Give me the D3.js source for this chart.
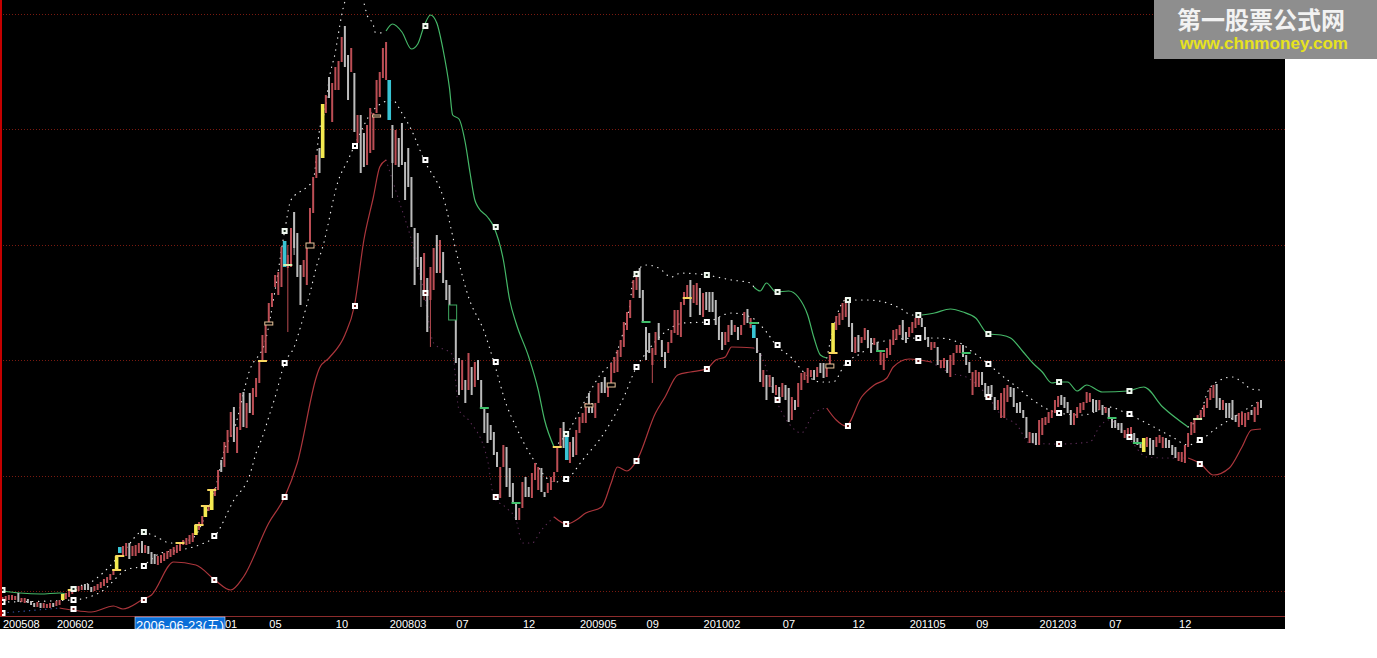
<!DOCTYPE html>
<html><head><meta charset="utf-8">
<script src="https://cdn.jsdelivr.net/npm/d3@7"></script>
<style>html,body{margin:0;padding:0;background:#fff;overflow:hidden}svg{display:block}</style>
</head><body><svg id="c" width="1377" height="658"></svg>
<script>
// weekly candle bodies, one row per ten bars
const bodyHigh=[
43,44,45,45,44,47,42,42,41,39,
37,38,37,37,36,37,37,39,40,46,
47,50,52,53,54,54,56,56,53,54,
56,58,61,63,66,69,84,93,94,97,
97,94,95,97,99,95,94,88,86,84,
85,87,89,91,93,95,97,100,102,105,
107,115,118,124,134,135,151,152,170,180,
198,210,228,233,213,247,248,237,247,252,
262,278,305,315,337,347,365,368,393,399,
385,412,428,407,375,380,392,432,463,485,
492,536,545,563,557,573,579,603,614,585,
592,567,525,525,507,515,532,527,560,568,
592,598,560,515,510,502,517,478,492,463,
412,407,383,387,362,373,392,405,400,388,
360,355,335,320,282,280,260,287,273,278,
280,260,232,227,215,208,188,173,195,193,
172,157,137,132,158,163,153,167,177,173,
172,148,157,163,168,192,212,218,203,198,
203,210,223,227,237,247,237,237,257,258,
263,257,277,283,290,300,318,328,340,360,
368,372,350,313,307,292,308,317,300,288,
298,310,330,330,338,348,355,360,355,357,
352,347,348,348,348,340,323,308,308,315,
320,315,313,315,328,331,322,315,302,287,
270,265,265,263,255,253,257,255,252,243,
240,257,267,268,272,270,270,273,277,277,
273,285,317,324,327,337,342,342,317,303,
305,303,312,310,302,302,298,288,287,292,
300,310,311,315,320,308,313,318,322,324,
322,313,303,298,298,293,280,282,280,285,
287,295,295,295,285,278,268,270,268,268,
257,254,255,243,240,247,252,255,253,252,
237,238,230,223,208,207,207,220,222,223,
228,230,240,244,245,243,238,230,227,233,
237,238,248,247,241,240,240,235,233,232,
222,220,217,217,210,212,213,207,202,197,
202,203,202,200,203,205,203,202,200,195,
193,188,188,195,207,218,222,225,230,235,
242,252,255,256,242,240,237,237,240,225,
227,228,227,228,230,233,238,240];
const bodyLow=[
38,39,40,40,40,38,38,37,37,35,
33,33,32,32,32,32,33,34,35,40,
41,43,46,48,49,50,50,50,48,49,
50,52,54,57,60,65,70,87,83,84,
81,84,84,87,87,87,86,76,76,75,
77,79,81,83,85,87,89,95,95,96,
98,105,110,115,123,129,130,144,150,168,
173,187,203,198,187,210,213,212,227,225,
243,257,278,287,317,333,353,345,353,373,
372,373,392,363,335,363,355,397,427,462,
467,482,527,542,518,550,550,578,573,540,
568,508,497,467,473,475,487,490,527,543,
562,560,520,477,475,473,475,440,453,413,
355,373,360,348,308,340,350,367,367,357,
340,335,320,277,245,250,237,250,245,253,
260,232,207,197,200,185,173,142,173,153,
143,137,120,120,132,143,143,142,160,150,
148,143,147,150,158,168,193,192,180,177,
183,185,207,217,217,227,227,222,237,247,
247,243,257,267,268,283,293,310,322,342,
350,342,318,280,287,275,285,300,283,272,
287,297,307,305,303,335,342,323,337,335,
325,323,330,328,328,315,300,290,295,298,
305,308,300,305,315,317,312,302,287,258,
253,240,253,247,245,243,243,240,218,220,
230,233,250,260,257,263,260,263,267,262,
263,275,287,310,315,320,323,313,288,287,
288,297,300,292,287,295,290,275,270,282,
285,295,300,305,300,297,303,307,312,315,
313,300,293,290,292,275,272,272,267,263,
275,287,287,283,275,267,245,253,253,255,
243,243,243,230,230,222,222,238,243,233,
227,227,222,202,197,197,195,195,205,215,
217,222,227,233,235,232,227,215,215,222,
227,230,237,238,228,228,230,225,227,222,
212,212,210,207,202,203,202,198,195,192,
188,193,185,185,193,197,192,192,192,185,
182,179,178,177,193,205,207,220,220,223,
232,240,242,232,230,230,222,222,220,218,
213,215,213,220,225,218,225,232];
const upDown=("rrrrrgrrgg"+"grgrrrgrrr"+"rrrrrrgggr"+"rrrrrrrrrr"+"grrrgrgggr"+"rrrrrrrrrr"+"rrrrrrrrrg"+"rrrgrrgrgr"+
"rrrrrrrrrr"+"rrgggrrrrr"+"grrgrrrrgg"+"rgrggrrrrr"+"rrrgrggggg"+"gggrgrrgrg"+"gggggrgrgr"+"gggggggrrg"+
"gggrrggrrr"+"ggrrrrrgrr"+"grrrrggrrg"+"grrrrrrrrr"+"rggggrrggg"+"rrrrrrrgrr"+"grggggggrr"+"grgrrgrrgg"+
"rgrgrgrggr"+"grrrrrgrgg"+"rrrrrrrggr"+"grrggrgrrr"+"rrrrggrrrr"+"gggrrgrrgr"+"rrrgggrrrg"+"ggggrrrrgg"+
"ggggrggrrr"+"rrrrggggrr"+"rrrrggrgrg"+"ggggrrrggg"+"rrggrrrggg"+"grrrrrrrrr"+"rrrggrgggg"+"rrrrgrrg").split("");
// [bar, high, low] for bars with a long thin wick
const longWicks=[[90,395,308],[92,428,385],[94,375,335],[123,515,442],[132,383,333],[134,362,308],[135,373,293],[133,387,340],[205,292,257],[248,252,218]];
const yellowBars=[19,36,61,64,66,101,262,360];
const cyanBars=[37,89,122,178,237];
// doji caps: [bar, value]
const yellowCaps=[[22,50],[36,70],[37,84],[56,97],[62,115],[64,134],[66,150],[82,279],[175,193],[216,342],[262,287]];
const greenCaps=[[152,232],[162,137],[203,318],[237,317],[277,289],[304,287],[350,222],[358,197]];
const paleCaps=[[90,375],[377,221]];
// hollow bars: [bar, high, low]
const orangeBoxes=[[84,318,315],[97,397,392],[118,525,523],[185,236,233],[192,257,253],[261,276,272]];
const greenBoxes=[[142,335,320]];
// bands
const upperBar=[0,5.5,12,18,20,22,28,32,39,44,48,53,58,61,64,67,70,73,78,83,86,89,91,96,98,100,102,103,105,106,107,108,110,112,114,115,117,117.5,119,121,123,126,129,131,133,135,137,139,141,142,144,146,147.5,149,150,153,155,158,160,162,166,169,171,174,178,183,189,192,194,196,198,199,203,207,211,214,222,230,236,237,239,241,244,248,251,254,256,258,260,266,273,278,283,287,290,294,299,303,307,311,315,318,322,325,328,331,333,336,339,342,347,355,360,366,374,378,380,383,388,391,394,397];
const upperVal=[49,47,46,47,46,51,58,68,92,108,104,97,99,105,125,149,190,210,270,300,350,409,440,453,460,510,535,560,588,607,625,638,645,646,637,625,615,608,607,609,616,608,591,596,614,625,617,590,552,525,521,497,467,440,433,423,413,380,340,317,283,250,220,193,206,235,267,277,290,310,337,363,375,372,363,367,365,360,357,353,349,357,348,349,343,325,302,285,282,340,340,338,332,325,325,327,331,328,322,306,305,302,288,277,268,257,258,258,249,255,248,249,253,233,213,227,247,258,263,258,251,250];
const midBar=[0,22,31,39,44,50,56,62,67,73,78,80,82,84,86,89,92,94,97,99,101,106,109,111,117,123,126,129,133,139,144,147,152,155,159,162,167,174,178,183,190,196,200,203,215,222,230,236,241,244,249,253,258,262,266,271,275,289,295,302,306,311,315,320,325,333,341,349,355,362,369,374,378,383,388,393,397];
const midVal=[38,40,48,70,74,87,90,95,104,140,165,187,203,223,243,277,293,313,347,373,393,460,480,494,530,540,527,510,480,443,377,343,308,278,235,213,183,158,161,180,208,243,273,287,317,318,327,323,308,295,282,267,258,258,277,287,297,302,302,297,288,276,265,253,240,227,225,233,226,215,203,195,200,212,222,232,240];
const lowerBar=[0,18,22,28,35,38,44,47,54,61,67,72,76,84,89,93,99,100,103,108,111,114,117,119,121,125,129,133,136,142,144,147,153,155,159,162,164,167,170,174,178,181,184,189,192,194,197,200,206,209,213,217,222,225,228,230,237,239,244,248,252,256,260,263,266,271,275,279,281,286,293,300,304,311,315,320,324,333,343,346,349,355,361,367,374,378,382,387,391,394,397];
const lowerVal=[27,32,30,28,34,31,40,45,78,75,60,50,63,117,143,177,263,272,282,305,334,400,443,473,480,440,400,347,297,285,230,220,180,143,132,120,97,97,110,123,116,120,127,133,157,173,169,179,227,243,265,268,271,280,283,293,292,287,240,217,207,227,232,220,214,243,255,262,273,281,278,266,263,243,225,215,197,196,198,213,220,203,183,182,182,176,165,172,193,210,211];
// band segments: solid or dotted runs between bars
const upperGreen=[[0,20],[121,174],[237,260],[290,374]];
const upperDotted=[[20,121],[174,237],[260,290],[374,397]];
const lowerRed=[[18,121],[174,237],[260,293],[374,397]];
const lowerDim=[[121,174],[237,260],[293,374]];
const lowerBlue=[[0,18]];
// square markers every 22.2 bars
const markerBar=[0,22.4,44.6,66.8,89,111.2,133.4,155.6,177.8,200,222.2,244.5,266.7,288.9,311,333.3,355.5,377.7];
const markerUpper=[50,51,108,null,409,null,614,413,206,366,365,348,340,325,306,258,249,null];
const markerMid=[38,40,74,104,277,494,480,278,161,273,318,295,277,302,276,227,226,200];
const markerLower=[27,31,40,60,143,334,347,143,116,179,271,240,214,279,243,196,203,176];
// axis
const tickBars=[0,17,70,84,105,122,143,164,182,203,221,246,268,286,307,327,349,371];
const tickLabels=["200508","200602","01","05","10","200803","07","12","200905","09","201002","07","12","201105","09","201203","07","12"];
const gridVals=[626,511,395,280,164,49];
const baseVal=24;

const svg=d3.select("#c");
const W=1285,H=629,n=bodyHigh.length;
if(bodyLow.length!==n||upDown.length!==n||upperBar.length!==upperVal.length||midBar.length!==midVal.length||lowerBar.length!==lowerVal.length)
  throw new Error("length mismatch "+[n,bodyLow.length,upDown.length,upperBar.length,upperVal.length,midBar.length,midVal.length,lowerBar.length,lowerVal.length]);
const x=d3.scaleLinear().domain([0,397]).range([2.5,1261]);
const y=d3.scaleLinear().domain([0,640]).range([640,0]);

svg.append("rect").attr("width",W).attr("height",H).attr("fill","#000");
svg.append("defs").append("clipPath").attr("id","panel").append("rect").attr("width",W).attr("height",H);
const root=svg.append("g").attr("clip-path","url(#panel)");

root.append("g").selectAll("line").data(gridVals).join("line")
  .attr("x1",0).attr("x2",W).attr("y1",d=>y(d)+.5).attr("y2",d=>y(d)+.5)
  .attr("stroke","#7a1a10").attr("stroke-width",1).attr("stroke-dasharray","1 2");

const line=d3.line().x(d=>x(d[0])).y(d=>y(d[1])).curve(d3.curveMonotoneX);
function band(bars,vals,ranges,color,dash,w){
  const pts=bars.map((b,i)=>[b,vals[i]]);
  ranges.forEach(([a,b])=>{
    const p=root.append("path").datum(pts.filter(d=>d[0]>=a&&d[0]<=b)).attr("d",line)
      .attr("fill","none").attr("stroke",color).attr("stroke-width",w);
    if(dash)p.attr("stroke-dasharray",dash).attr("stroke-linecap","round");
  });
}
band(upperBar,upperVal,upperDotted,"#eeeeee","0.4 5.6",1.2);
band(midBar,midVal,[[0,397]],"#eeeeee","0.4 5.6",1.2);
band(lowerBar,lowerVal,lowerDim,"#5e2c58","0.4 5",1.1);
band(lowerBar,lowerVal,lowerBlue,"#3a58b0","0.4 5",1.1);
band(upperBar,upperVal,upperGreen,"#45b868",null,1.2);
band(lowerBar,lowerVal,lowerRed,"#ac363c",null,1.2);

const RED="#bc4e55",GREY="#bcbcbc";
const yellowSet=new Set(yellowBars),cyanSet=new Set(cyanBars);
const special=i=>yellowSet.has(i)||cyanSet.has(i);
const barColor=i=>yellowSet.has(i)?"#f4ea50":cyanSet.has(i)?"#38c4d4":upDown[i]==="r"?RED:GREY;

root.append("g").selectAll("line").data(longWicks).join("line")
  .attr("x1",d=>x(d[0])).attr("x2",d=>x(d[0])).attr("y1",d=>y(d[1])).attr("y2",d=>y(d[2]))
  .attr("stroke",d=>upDown[d[0]]==="r"?"#a8444a":"#aaaaaa").attr("stroke-width",1.1);
root.append("g").selectAll("rect").data(d3.range(n)).join("rect")
  .attr("x",i=>x(i)-(special(i)?1.8:1)).attr("width",i=>special(i)?3.6:2)
  .attr("y",i=>y(bodyHigh[i])).attr("height",i=>y(bodyLow[i])-y(bodyHigh[i]))
  .attr("fill",barColor);

function caps(list,color){
  root.append("g").selectAll("rect").data(list).join("rect")
    .attr("x",d=>x(d[0])-4.5).attr("width",9).attr("y",d=>y(d[1])-1).attr("height",2).attr("fill",color);
}
caps(yellowCaps,"#f8d860");caps(greenCaps,"#3fc06a");caps(paleCaps,"#d8f0b0");
function boxes(list,color){
  root.append("g").selectAll("rect").data(list).join("rect")
    .attr("x",d=>x(d[0])-4).attr("width",8).attr("y",d=>y(d[1])).attr("height",d=>y(d[2])-y(d[1]))
    .attr("fill","#000").attr("stroke",color).attr("stroke-width",1);
}
boxes(orangeBoxes,"#e8c49a");boxes(greenBoxes,"#3fa860");

function markers(vals,inner,fill){
  const data=markerBar.map((b,i)=>[b,vals[i]]).filter(d=>d[1]!==null);
  const g=root.append("g");
  g.selectAll("rect.o").data(data).join("rect").attr("class","o")
    .attr("x",d=>x(d[0])-3).attr("y",d=>y(d[1])-3).attr("width",6).attr("height",6).attr("fill",fill);
  g.selectAll("rect.i").data(data).join("rect").attr("class","i")
    .attr("x",d=>x(d[0])-1).attr("y",d=>y(d[1])-1).attr("width",2).attr("height",2).attr("fill",inner);
}
markers(markerUpper,"#203020","#f0f8f0");
markers(markerMid,"#000","#fff");
markers(markerLower,"#702020","#fff");

// left border and base line
svg.append("line").attr("x1",1).attr("x2",1).attr("y1",0).attr("y2",y(baseVal)).attr("stroke","#c40000").attr("stroke-width",2);
svg.append("line").attr("x1",0).attr("x2",W).attr("y1",y(baseVal)+.5).attr("y2",y(baseVal)+.5).attr("stroke","#8c2c2c").attr("stroke-width",1);

// axis labels
const axis=d3.axisBottom(x).tickValues(tickBars).tickSize(0).tickPadding(0).tickFormat((d,i)=>tickLabels[i]);
const ax=svg.append("g").attr("transform","translate(0,618)").call(axis);
ax.select(".domain").remove();
ax.selectAll("text").attr("text-anchor","start").attr("dy",0).attr("y",10)
  .attr("fill","#fff").style("font-family","'Liberation Sans',sans-serif").style("font-size","11px");

// cursor date tag
svg.append("rect").attr("x",135).attr("y",617).attr("width",90).attr("height",12).attr("fill","#0a6ed8").attr("stroke","#cfe4fa").attr("stroke-width",.6);
svg.append("clipPath").attr("id","tag").append("rect").attr("x",135).attr("y",617).attr("width",90).attr("height",12);
svg.append("text").attr("clip-path","url(#tag)").attr("x",136).attr("y",630).text("2006-06-23(五)")
  .attr("fill","#fff").style("font-family","'Liberation Sans','Noto Sans CJK SC',sans-serif").style("font-size","13px");

// watermark
svg.append("rect").attr("x",1154).attr("y",0).attr("width",223).attr("height",59).attr("fill","#8e8e8e");
svg.append("text").attr("x",1261).attr("y",29).attr("text-anchor","middle").text("第一股票公式网")
  .attr("fill","#f2f2f2").style("font-family","'Noto Sans CJK SC',sans-serif").style("font-weight",700).style("font-size","24px");
svg.append("text").attr("x",1180).attr("y",49).attr("textLength",168).attr("lengthAdjust","spacingAndGlyphs").text("www.chnmoney.com")
  .attr("fill","#e6e21e").style("font-family","'Liberation Sans',sans-serif").style("font-weight",700).style("font-size","16px");
</script></body></html>
